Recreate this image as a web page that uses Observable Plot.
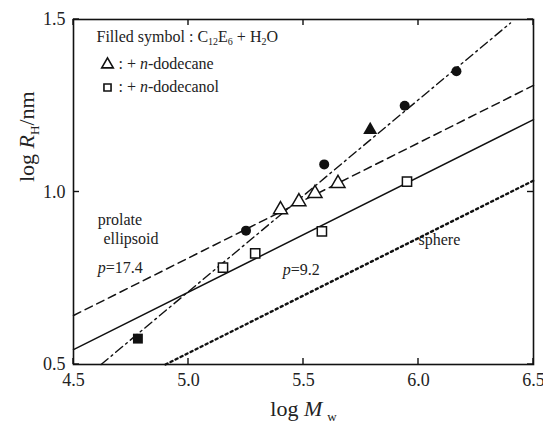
<!DOCTYPE html>
<html><head><meta charset="utf-8">
<script src="https://cdn.jsdelivr.net/npm/d3@7"></script>
<script src="https://cdn.jsdelivr.net/npm/@observablehq/plot@0.6"></script>
<style>body{margin:0;background:#fff} svg{display:block}</style>
</head><body><div id="chart"></div>
<script>
// axis
const xTicks = [4.5, 5.0, 5.5, 6.0, 6.5];
const yTicks = [0.5, 1.0, 1.5];
// filled symbols: C12E6 + H2O
const filledCircleX = [5.25, 5.59, 5.94, 6.165];
const filledCircleY = [0.888, 1.08, 1.25, 1.35];
const filledTriX = [5.79];
const filledTriY = [1.18];
const filledSqX = [4.78];
const filledSqY = [0.575];
// open symbols
const openTriX = [5.40, 5.48, 5.55, 5.65];
const openTriY = [0.949, 0.972, 0.996, 1.025];
const openSqX = [5.15, 5.29, 5.58, 5.95];
const openSqY = [0.781, 0.822, 0.886, 1.03];
// lines (end points)
const dashDotX = [4.62, 6.40], dashDotY = [0.5, 1.49];
const prolateX = [4.5, 6.5], prolateY = [0.642, 1.309];
const solidX = [4.5, 6.5], solidY = [0.543, 1.210];
const sphereX = [4.90, 6.5], sphereY = [0.5, 1.033];
// annotations
const annText = ["prolate", "ellipsoid", "p=17.4", "p=9.2", "sphere"];
const annX = [4.605, 4.63, 4.605, 5.41, 6.0];
const annY = [0.92, 0.865, 0.78, 0.775, 0.86];

const pts = (xs, ys) => xs.map((x, i) => ({x, y: ys[i]}));
const ann = annText.map((t, i) => ({t, x: annX[i], y: annY[i]}));

const W = 543, H = 425, ML = 73, MR = 10, MT = 19, MB = 61, TICK = 6;

const plot = Plot.plot({
  width: W, height: H,
  marginLeft: ML, marginRight: MR, marginTop: MT, marginBottom: MB,
  style: {fontFamily: "'Liberation Serif', serif", fontSize: "18px", color: "#222", background: "#fff"},
  x: {domain: [4.5, 6.5]},
  y: {domain: [0.5, 1.5]},
  marks: [
    Plot.axisX({ticks: xTicks, tickFormat: d3.format(".1f"), tickSize: 0, tickPadding: 9, label: null, fontSize: 18}),
    Plot.axisY({ticks: yTicks, tickFormat: d3.format(".1f"), tickSize: 0, tickPadding: 8, label: null, fontSize: 18}),
    Plot.line(pts(dashDotX, dashDotY), {x: "x", y: "y", stroke: "#111", strokeWidth: 1.4, strokeDasharray: "9,4,2,4"}),
    Plot.line(pts(prolateX, prolateY), {x: "x", y: "y", stroke: "#111", strokeWidth: 1.5, strokeDasharray: "8,5"}),
    Plot.line(pts(solidX, solidY), {x: "x", y: "y", stroke: "#111", strokeWidth: 1.5}),
    Plot.line(pts(sphereX, sphereY), {x: "x", y: "y", stroke: "#111", strokeWidth: 2.4, strokeDasharray: "2.2,3.4"}),
    Plot.dot(pts(filledCircleX, filledCircleY), {x: "x", y: "y", r: 5, fill: "#111", symbol: "circle"}),
    Plot.dot(pts(filledTriX, filledTriY), {x: "x", y: "y", r: 5.2, fill: "#111", symbol: "triangle"}),
    Plot.dot(pts(filledSqX, filledSqY), {x: "x", y: "y", r: 5.6, fill: "#111", symbol: "square"}),
    Plot.dot(pts(openTriX, openTriY), {x: "x", y: "y", r: 5.2, fill: "#fff", stroke: "#111", strokeWidth: 1.5, symbol: "triangle"}),
    Plot.dot(pts(openSqX, openSqY), {x: "x", y: "y", r: 5.2, fill: "#fff", stroke: "#111", strokeWidth: 1.5, symbol: "square"}),
    Plot.frame({stroke: "#111", strokeWidth: 1.6}),
    Plot.text(ann, {x: "x", y: "y", text: "t", textAnchor: "start", fontSize: 16, fill: "#222"}),
    // legend
    Plot.text(["Filled symbol : C12E6 + H2O"], {frameAnchor: "top-left", lineAnchor: "middle", dx: 23, dy: 17, textAnchor: "start", fontSize: 16, fill: "#222"}),
    Plot.dot([0], {frameAnchor: "top-left", dx: 34, dy: 45, r: 4.3, stroke: "#111", strokeWidth: 1.6, fill: "#fff", symbol: "triangle"}),
    Plot.text([": + n-dodecane"], {frameAnchor: "top-left", lineAnchor: "middle", dx: 45, dy: 44, textAnchor: "start", fontSize: 16, fill: "#222"}),
    Plot.dot([0], {frameAnchor: "top-left", dx: 34, dy: 68, r: 4.0, stroke: "#111", strokeWidth: 1.6, fill: "#fff", symbol: "square"}),
    Plot.text([": + n-dodecanol"], {frameAnchor: "top-left", lineAnchor: "middle", dx: 45, dy: 67, textAnchor: "start", fontSize: 16, fill: "#222"}),
    // axis titles
    Plot.text(["log Mw"], {frameAnchor: "bottom", lineAnchor: "middle", dy: 44, fontSize: 22, fill: "#222"}),
    Plot.text(["log RH/nm"], {frameAnchor: "left", lineAnchor: "middle", dx: -47, dy: -10, rotate: -90, fontSize: 22, fill: "#222"})
  ]
});
document.getElementById("chart").append(plot);

// inward ticks on all four sides, placed with the plot's own scales
const sx = plot.scale("x"), sy = plot.scale("y");
const x0 = sx.apply(4.5), x1 = sx.apply(6.5), y0 = sy.apply(0.5), y1 = sy.apply(1.5);
const g = d3.select(plot).append("g").attr("stroke", "#111").attr("stroke-width", 1.4);
xTicks.forEach(v => {
  const px = sx.apply(v);
  g.append("line").attr("x1", px).attr("x2", px).attr("y1", y0).attr("y2", y0 - TICK);
  g.append("line").attr("x1", px).attr("x2", px).attr("y1", y1).attr("y2", y1 + TICK);
});
yTicks.forEach(v => {
  const py = sy.apply(v);
  g.append("line").attr("y1", py).attr("y2", py).attr("x1", x0).attr("x2", x0 + TICK);
  g.append("line").attr("y1", py).attr("y2", py).attr("x1", x1).attr("x2", x1 - TICK);
});

const rich = {
  "log Mw": 'log <tspan font-style="italic">M</tspan><tspan font-size="13" dx="5" dy="5">w</tspan>',
  "log RH/nm": 'log <tspan font-style="italic">R</tspan><tspan font-size="13" dy="5">H</tspan><tspan dy="-5">/nm</tspan>',
  "Filled symbol : C12E6 + H2O": 'Filled symbol : C<tspan font-size="10" dy="3">12</tspan><tspan dy="-3">E</tspan><tspan font-size="10" dy="3">6</tspan><tspan dy="-3"> + H</tspan><tspan font-size="10" dy="3">2</tspan><tspan dy="-3">O</tspan>',
  ": + n-dodecane": ': + <tspan font-style="italic">n</tspan>-dodecane',
  ": + n-dodecanol": ': + <tspan font-style="italic">n</tspan>-dodecanol',
  "p=17.4": '<tspan font-style="italic">p</tspan>=17.4',
  "p=9.2": '<tspan font-style="italic">p</tspan>=9.2'
};
plot.querySelectorAll("text").forEach(t => {
  const s = t.textContent;
  if (rich[s] !== undefined) t.innerHTML = rich[s];
});
</script>
</body></html>
